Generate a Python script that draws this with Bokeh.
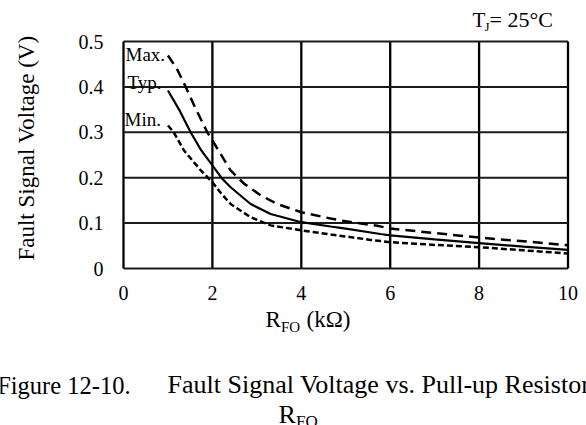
import math
from bokeh.plotting import figure
from bokeh.models import Range1d, Label, FixedTicker, LinearAxis
from bokeh.embed import file_html
from bokeh.resources import INLINE

# ---- data ----
x_max = [1.0, 1.2, 1.4, 1.6, 1.885, 2.0, 2.41, 2.71, 3.09, 3.46, 4.0, 4.66, 5.0, 5.71, 6.0, 7.0, 8.0, 9.0, 10.0]
v_max = [0.469, 0.44, 0.40, 0.357, 0.30, 0.282, 0.216, 0.187, 0.161, 0.142, 0.124, 0.110, 0.104, 0.094, 0.088, 0.078, 0.068, 0.060, 0.051]

x_typ = [1.0, 1.25, 1.51, 1.75, 2.0, 2.2, 2.41, 2.86, 3.31, 4.0, 4.66, 5.0, 5.78, 6.0, 7.0, 8.0, 9.0, 10.0]
v_typ = [0.392, 0.35, 0.30, 0.26, 0.227, 0.20, 0.179, 0.142, 0.120, 0.102, 0.0925, 0.088, 0.076, 0.073, 0.064, 0.056, 0.048, 0.041]

x_min = [1.0, 1.13, 1.36, 1.55, 1.74, 2.0, 2.2, 2.41, 2.86, 3.31, 4.0, 4.66, 5.56, 6.0, 7.0, 8.0, 9.0, 10.0]
v_min = [0.315, 0.30, 0.26, 0.238, 0.216, 0.19, 0.165, 0.142, 0.113, 0.095, 0.084, 0.075, 0.063, 0.058, 0.052, 0.047, 0.040, 0.033]

x_ticks = [0, 2, 4, 6, 8, 10]
y_ticks = [0, 0.1, 0.2, 0.3, 0.4, 0.5]
y_tick_labels = ["0", "0.1", "0.2", "0.3", "0.4", "0.5"]
x_tick_labels = ["0", "2", "4", "6", "8", "10"]
X_LO, X_HI = 0, 10
Y_LO, Y_HI = 0, 0.5

FONT = "Liberation Serif"

# ---- layout: picture pixels of the plot box ----
W, H = 586, 425
FL, FR, FT, FB = 123.0, 567.5, 41.0, 268.0
XS = (FR - FL) / (X_HI - X_LO)     # px per x unit
YS = (FB - FT) / (Y_HI - Y_LO)     # px per y unit

def dx(px):
    return X_LO + (px - FL) / XS

def dy(py):
    return Y_LO + (FB - py) / YS

p = figure(width=W, height=H, output_backend="svg", toolbar_location=None,
           x_axis_location=None, y_axis_location=None,
           x_range=Range1d(dx(0), dx(W)), y_range=Range1d(dy(H), dy(0)),
           min_border=0)
p.outline_line_color = None
p.background_fill_color = "white"
p.border_fill_color = "white"
p.grid.visible = False

# axes placed at the plot box edges (tick labels only)
xax = LinearAxis(fixed_location=Y_LO, bounds=(X_LO, X_HI), ticker=FixedTicker(ticks=x_ticks))
yax = LinearAxis(fixed_location=X_LO, bounds=(Y_LO, Y_HI), ticker=FixedTicker(ticks=y_ticks))
xax.major_label_overrides = {t: s for t, s in zip(x_ticks, x_tick_labels)}
yax.major_label_overrides = {t: s for t, s in zip(y_ticks, y_tick_labels)}
for ax in (xax, yax):
    ax.axis_line_color = None
    ax.major_tick_line_color = None
    ax.minor_tick_line_color = None
    ax.major_tick_in = 0
    ax.major_tick_out = 0
    ax.minor_tick_in = 0
    ax.minor_tick_out = 0
    ax.major_label_text_font = FONT
    ax.major_label_text_font_size = "20px"
    ax.major_label_text_color = "black"
xax.major_label_standoff = 17
yax.major_label_standoff = 20
p.add_layout(xax, "below")
p.add_layout(yax, "left")

# grid lines at the ticks, spanning the plot box (edges form the frame)
p.segment(x0=x_ticks, y0=[Y_LO] * len(x_ticks), x1=x_ticks, y1=[Y_HI] * len(x_ticks),
          line_color="black", line_width=2.3)
p.segment(x0=[X_LO] * len(y_ticks), y0=y_ticks, x1=[X_HI] * len(y_ticks), y1=y_ticks,
          line_color="#1a1a1a", line_width=2)

# curves
p.line(x_max, v_max, line_color="black", line_width=2.5, line_dash="10 6")
p.line(x_typ, v_typ, line_color="black", line_width=2.2)
p.line(x_min, v_min, line_color="black", line_width=2.5, line_dash="6 3")


def lab(txt, px, py, size, align="left", baseline="alphabetic", angle=0.0):
    if baseline == "alphabetic":
        py = py - 0.33 * size   # compensate where the renderer puts the baseline
    p.add_layout(Label(x=dx(px), y=dy(py), text=txt, text_font=FONT,
                       text_font_size=f"{size}px", text_align=align,
                       text_baseline=baseline, text_color="black", angle=angle))

# curve labels
lab("Max.", 125, 60, 19)
lab("Typ.", 127, 88, 19)
lab("Min.", 124, 125, 19)

# T_J = 25°C
lab("T", 472, 26.5, 21)
lab("J", 484, 30, 13)
lab("= 25°C", 489, 26.5, 22)

# axis titles
lab("Fault Signal Voltage (V)", 26, 147.5, 23, align="center", baseline="middle", angle=math.pi / 2)
lab("R", 265, 327, 23)
lab("FO", 280.5, 331, 15)
lab("(kΩ)", 306, 327, 23)

# caption
lab("Figure 12-10.", 130, 392.7, 24.5, align="right")
lab("Fault Signal Voltage vs. Pull-up Resistor", 167, 392.7, 26)
lab("R", 278, 423, 26)
lab("FO", 295.5, 427, 17)

open("out.html", "w").write(file_html(p, INLINE))
